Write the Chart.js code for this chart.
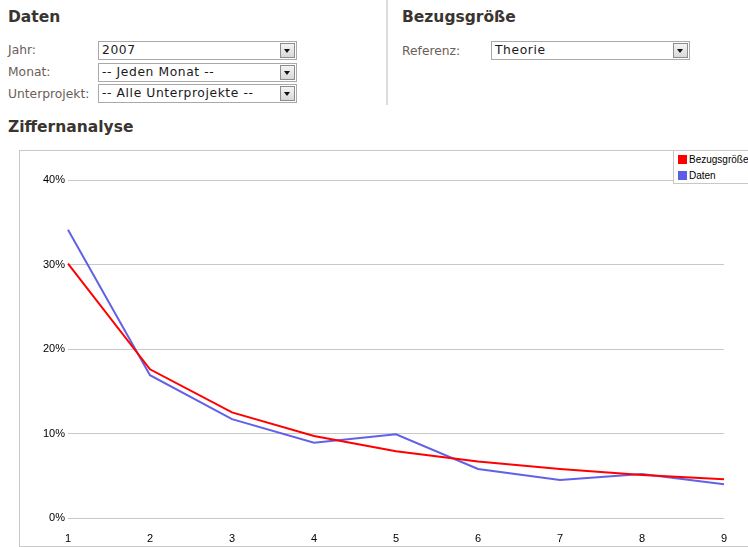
<!DOCTYPE html>
<html>
<head>
<meta charset="utf-8">
<script src="https://cdn.jsdelivr.net/npm/chart.js@4"></script>
<style>
    body { margin: 0; background: #fff; font-family: "DejaVu Sans", Verdana, sans-serif; width: 748px; height: 547px; overflow: hidden; position: relative; }
    h2 { position: absolute; margin: 0; font-size: 15.5px; font-weight: bold; color: #3a3530; }
    .lbl { position: absolute; font-size: 12.3px; color: #6b6058; }
    .sel { position: absolute; height: 17px; border: 1px solid #a9a9a9; background: #fff; font-size: 12.3px; letter-spacing: 0.6px; color: #1a1a1a; line-height: 17px; box-sizing: content-box; }
    .sel span { padding-left: 3px; }
    .sel .arrow { position: absolute; right: 1px; top: 1px; width: 13px; height: 13px; border: 1px solid #8c8c8c; background: linear-gradient(#f4f4f4, #d8d8d8); }
    .sel .arrow:after { content: ""; position: absolute; left: 3px; top: 5px; border-left: 3.5px solid transparent; border-right: 3.5px solid transparent; border-top: 4px solid #111; }
    .sep { position: absolute; left: 386px; top: 0; width: 2px; height: 105px; background: #dcdcdc; }
    #chartBox { position: absolute; left: 19px; top: 150px; width: 740px; height: 395px; border: 1px solid #c8c8c8; }
    #legend { position: absolute; left: 673px; top: 150px; width: 90px; height: 32px; border: 1px solid #c8c8c8; background: #fff; font-family: "Liberation Sans", Arial, sans-serif; font-size: 10px; color: #000; }
    #legend div { position: absolute; left: 4px; height: 10px; line-height: 10px; }
    #legend i { display: inline-block; width: 9px; height: 9px; margin-right: 2px; vertical-align: top; }
</style>
</head>
<body>
<h2 style="left:8px; top:8px;">Daten</h2>
<div class="lbl" style="left:8px; top:43px;">Jahr:</div>
<div class="sel" style="left:98px; top:41px; width:197px;"><span>2007</span><div class="arrow"></div></div>
<div class="lbl" style="left:8px; top:65px;">Monat:</div>
<div class="sel" style="left:98px; top:63px; width:197px;"><span>-- Jeden Monat --</span><div class="arrow"></div></div>
<div class="lbl" style="left:8px; top:87px;">Unterprojekt:</div>
<div class="sel" style="left:98px; top:84px; width:197px;"><span>-- Alle Unterprojekte --</span><div class="arrow"></div></div>

<div class="sep"></div>
<h2 style="left:402px; top:8px;">Bezugsgröße</h2>
<div class="lbl" style="left:402px; top:44px;">Referenz:</div>
<div class="sel" style="left:491px; top:41px; width:197px;"><span>Theorie</span><div class="arrow"></div></div>

<h2 style="left:8px; top:118px;">Ziffernanalyse</h2>

<div id="chartBox"><canvas id="chart" width="740" height="395"></canvas></div>
<div id="legend"></div>

<script>
// Ziffernanalyse (Benford) data
const digits = ["1", "2", "3", "4", "5", "6", "7", "8", "9"];
const seriesNames = ["Bezugsgröße", "Daten"];
const theorie = [30.1, 17.6, 12.5, 9.7, 7.9, 6.7, 5.8, 5.1, 4.6];
const daten = [34.1, 16.9, 11.7, 8.9, 9.9, 5.8, 4.5, 5.2, 4.0];
const yTicks = [0, 10, 20, 30, 40];
const colors = ["#ff0000", "#5c5ce6"];

const chartCanvas = document.getElementById("chart");

let chart = new Chart(chartCanvas, {
    type: 'line',
    data: {
        labels: digits,
        datasets: [{
            label: seriesNames[0],
            data: theorie,
            borderColor: colors[0],
            borderWidth: 2,
            pointRadius: 0,
            tension: 0
        }, {
            label: seriesNames[1],
            data: daten,
            borderColor: 'rgba(80, 80, 230, 0.9)',
            borderWidth: 2,
            pointRadius: 0,
            tension: 0
        }]
    },
    options: {
        responsive: false,
        animation: false,
        layout: {
            padding: { left: 0, top: 29, right: 36, bottom: 0 }
        },
        scales: {
            x: {
                type: 'category',
                offset: false,
                grid: { display: false },
                border: { display: false },
                ticks: {
                    padding: 6,
                    color: '#000',
                    font: { family: 'Liberation Sans', size: 11 },
                    maxRotation: 0
                },
                afterFit: (scale) => { scale.height = 28; }
            },
            y: {
                min: 0,
                max: 40,
                afterBuildTicks: (scale) => { scale.ticks = yTicks.map(v => ({ value: v })); },
                grid: { color: '#c8c8c8', drawTicks: false, lineWidth: 1 },
                border: { display: false },
                ticks: {
                    padding: 3,
                    color: '#000',
                    font: { family: 'Liberation Sans', size: 11 },
                    callback: (v) => v + '%'
                },
                afterFit: (scale) => { scale.width = 48; }
            }
        },
        plugins: {
            legend: { display: false },
            tooltip: { enabled: false }
        }
    }
});

// HTML legend
const legend = document.getElementById("legend");
legend.innerHTML = seriesNames.map((name, i) =>
    `<div style="top:${4 + i * 16}px"><i style="background:${colors[i]}"></i>${name}</div>`
).join('');
</script>
</body>
</html>
